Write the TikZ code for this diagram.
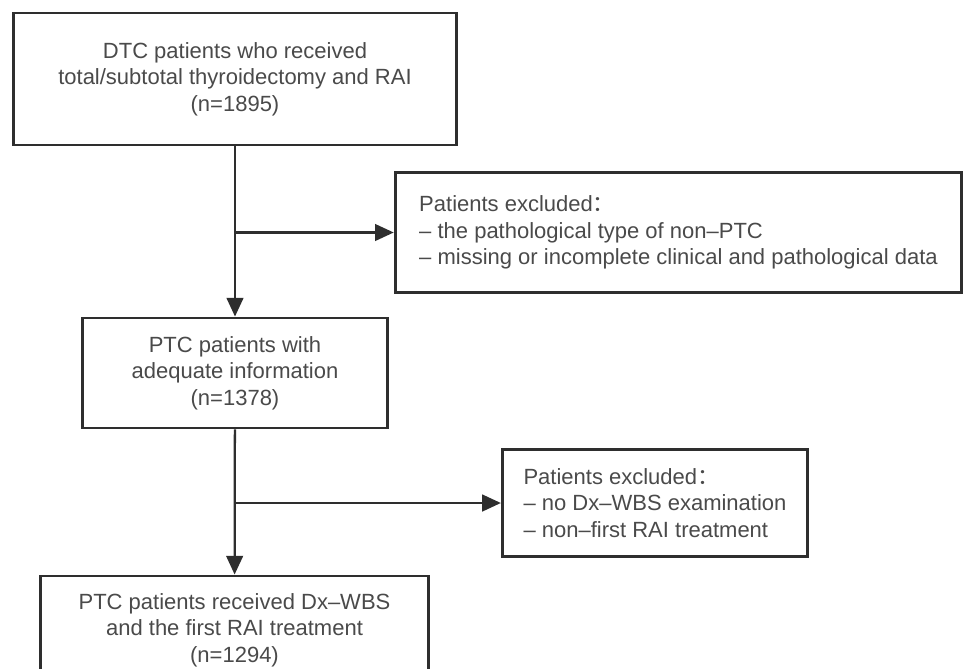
\documentclass[tikz,border=0pt]{standalone}
\usepackage{fontspec}
\setmainfont{Liberation Sans}
\newfontfamily\cjk{Noto Sans CJK SC}
\usetikzlibrary{arrows.meta}
\definecolor{txtgray}{HTML}{4A4A4A}
\definecolor{linegray}{HTML}{2E2E2E}
\tikzset{
    stepbox/.style={draw=linegray, line width=2.2pt, align=center, text=txtgray, inner sep=0pt, font=\fontsize{16.5}{20}\selectfont}, % boxes of the main flow
    exclbox/.style={stepbox, align=left}, % boxes of the excluded patients
    flow/.style={draw=linegray, line width=1.7pt, -{Triangle[length=14pt, width=12.5pt]}} % arrows
}
\begin{document}
\begin{tikzpicture}[x=0.75pt, y=-0.75pt]
    \clip (0,0) rectangle (964,668);
    \fill[white] (0,0) rectangle (964,668);

    \node[stepbox, minimum width=332pt, minimum height=99pt] (dtc) at (235,79)
        {DTC patients who received\\total/subtotal thyroidectomy and RAI\\(n=1895)};
    \node[exclbox, minimum width=425pt, minimum height=90pt] (excla) at (678.5,232.5)
        {Patients excluded{\cjk ：}\\– the pathological type of non–PTC\\– missing or incomplete clinical and pathological data};
    \node[stepbox, minimum width=229pt, minimum height=82.5pt] (ptc) at (235,373)
        {PTC patients with\\adequate information\\(n=1378)};
    \node[exclbox, minimum width=229pt, minimum height=80pt] (exclb) at (655,503)
        {Patients excluded{\cjk ：}\\– no Dx–WBS examination\\– non–first RAI treatment};
    \node[stepbox, minimum width=291pt, minimum height=81pt, anchor=north] (wbs) at (234.5,574.5)
        {PTC patients received Dx–WBS\\and the first RAI treatment\\(n=1294)};

    \coordinate (ja) at (dtc.south |- excla.west);
    \coordinate (jb) at (ptc.south |- exclb.west);

    \draw[flow] (dtc) -- (ptc);
    \draw[flow] (ja) -- (excla);
    \draw[flow] (ptc) -- (wbs);
    \draw[flow] (jb) -- (exclb);
\end{tikzpicture}
\end{document}
